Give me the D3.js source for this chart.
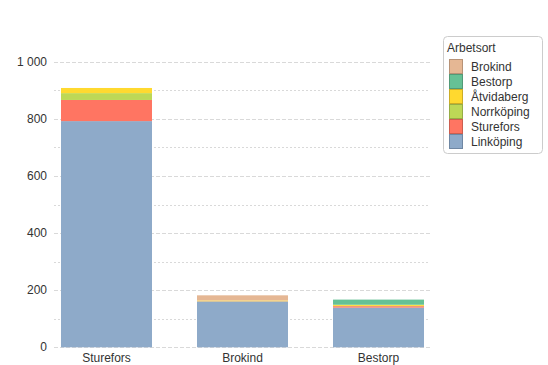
<!DOCTYPE html>
<html><head><meta charset="utf-8">
<script src="https://cdn.jsdelivr.net/npm/d3@7"></script>
<style>
body{margin:0;background:#fff;}
svg{display:block;font-family:"Liberation Sans",Arial,sans-serif;}
</style></head>
<body><svg id="c" width="548" height="365"></svg>
<script>
const categories = ["Sturefors","Brokind","Bestorp"];
const seriesNames = ["Linköping","Sturefors","Norrköping","Åtvidaberg","Bestorp","Brokind"];
const linkoping  = [792,160,139];
const sturefors  = [74,1,5];
const norrkoping = [24,1,1];
const atvidaberg = [18,2,4];
const bestorp    = [0,0,18];
const brokind    = [0,18,0];
const yTicks = [0,200,400,600,800,1000];
const yMinor = [100,300,500,700,900];
const colors = ["#8eaac9","#ff7562","#bdd856","#ffd92f","#66c195","#e5b794"];
const strokeColors = ["#6f87a3","#cc5e4f","#97ad45","#ccad26","#529a77","#b79276"];

const values = [linkoping,sturefors,norrkoping,atvidaberg,bestorp,brokind];
const table = categories.map((c,i)=>{const o={cat:c};seriesNames.forEach((s,j)=>o[s]=values[j][i]);return o;});
const stack = d3.stack().keys(seriesNames)(table);

const svg = d3.select("#c");
const x = d3.scaleBand().domain(categories).range([54,431]).paddingInner(0.331).paddingOuter(0.0515);
const y = d3.scaleLinear().domain([0,1000]).range([347.3,61.7]);

// grid
svg.append("g").selectAll("line").data(yMinor).join("line")
  .attr("x1",54).attr("x2",430).attr("y1",d=>Math.round(y(d))+0.5).attr("y2",d=>Math.round(y(d))+0.5)
  .attr("stroke","#d9d9d9").attr("stroke-dasharray","2,2");
svg.append("g").selectAll("line").data(yTicks).join("line")
  .attr("x1",54).attr("x2",430).attr("y1",d=>Math.round(y(d))+0.5).attr("y2",d=>Math.round(y(d))+0.5)
  .attr("stroke","#d9d9d9").attr("stroke-dasharray","4,2");

// bars
svg.append("g").selectAll("g").data(stack).join("g")
  .attr("fill",(d,i)=>colors[i])
  .selectAll("rect").data(d=>d).join("rect")
  .attr("x",d=>x(d.data.cat)).attr("width",x.bandwidth())
  .attr("y",d=>y(d[1])).attr("height",d=>Math.max(0,y(d[0])-y(d[1])));

// y axis labels
const fmt = v => d3.format(",")(v).replace(/,/g," ");
svg.append("g").selectAll("text").data(yTicks).join("text")
  .attr("x",47).attr("y",d=>y(d)+4).attr("text-anchor","end")
  .attr("font-size",12).attr("fill","#333").text(fmt);

// x labels
svg.append("g").selectAll("text").data(categories).join("text")
  .attr("x",d=>x(d)+x.bandwidth()/2).attr("y",362).attr("text-anchor","middle")
  .attr("font-size",12).attr("fill","#333").text(d=>d);

// legend
const lg = svg.append("g");
lg.append("rect").attr("x",443.5).attr("y",36.5).attr("width",99).attr("height",117).attr("rx",4)
  .attr("fill","#fff").attr("stroke","#cccccc");
lg.append("text").attr("x",447).attr("y",52).attr("font-size",12).attr("fill","#333").text("Arbetsort");
const legOrder = seriesNames.map((s,i)=>i).reverse();
legOrder.forEach((si,k)=>{
  const yy = 59.5 + k*15;
  lg.append("rect").attr("x",449.5).attr("y",yy).attr("width",13).attr("height",14)
    .attr("fill",colors[si]).attr("stroke",strokeColors[si]);
  lg.append("text").attr("x",471).attr("y",yy+11.5).attr("font-size",12).attr("fill","#333").text(seriesNames[si]);
});
</script></body></html>
